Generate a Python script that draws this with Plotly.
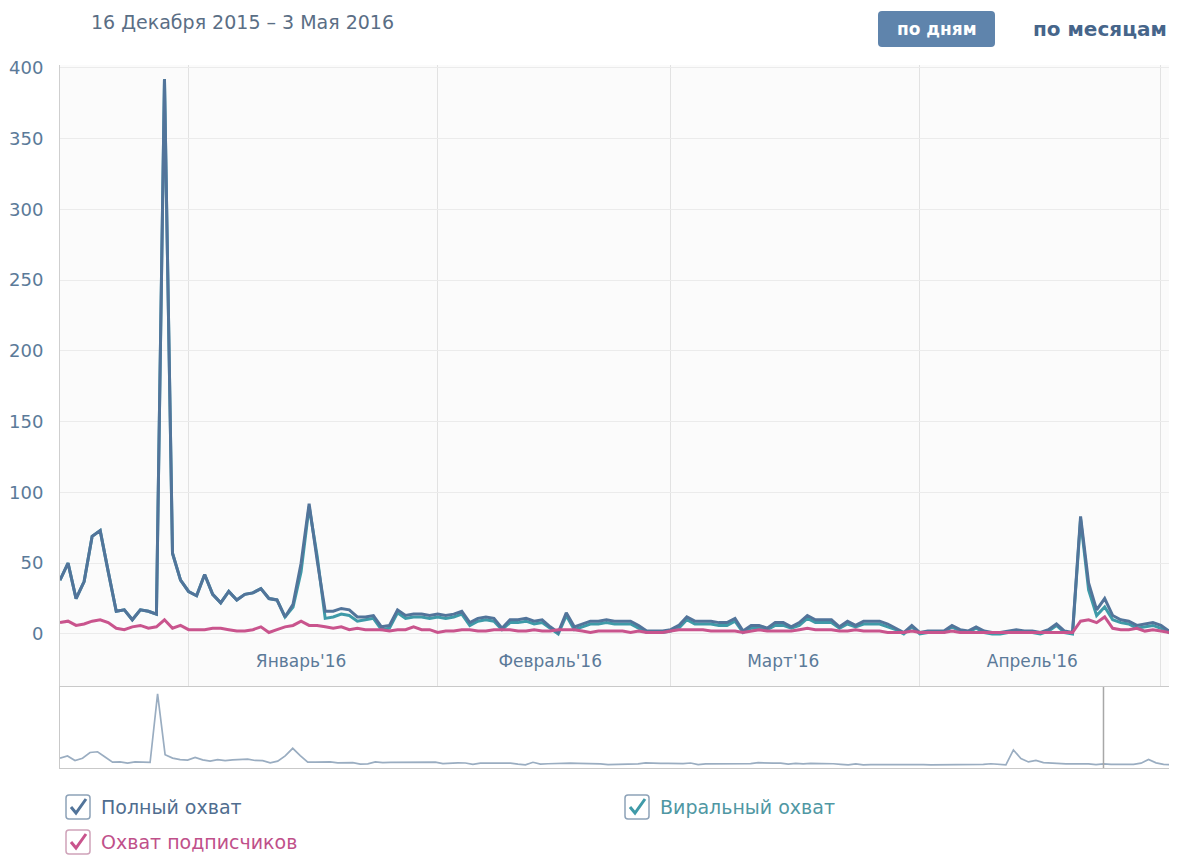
import plotly.graph_objects as go
import pandas as pd

# ---------------- data ----------------
period_start = "2015-12-16"
period_end = "2016-05-03"
nav_end = "2016-05-13"

full_reach = [
    38, 50, 25, 37, 69, 73, 44, 16, 17, 10,
    17, 16, 14, 392, 57, 38, 30, 27, 42, 28,
    22, 30, 24, 28, 29, 32, 25, 24, 12, 21,
    50, 92, 52, 16, 16, 18, 17, 12, 12, 13,
    5, 6, 17, 13, 14, 14, 13, 14, 13, 14,
    16, 8, 11, 12, 11, 4, 10, 10, 11, 9,
    10, 5, 1, 15, 5, 7, 9, 9, 10, 9,
    9, 9, 6, 2, 2, 2, 3, 6, 12, 9,
    9, 9, 8, 8, 11, 2, 6, 6, 4, 8,
    8, 5, 8, 13, 10, 10, 10, 5, 9, 6,
    9, 9, 9, 7, 4, 1, 6, 1, 2, 2,
    2, 6, 3, 2, 5, 2, 1, 1, 2, 3,
    2, 2, 1, 3, 7, 2, 1, 83, 36, 17,
    25, 13, 10, 9, 6, 7, 8, 6, 2, 6,
]

viral_reach = [
    38, 50, 25, 37, 69, 73, 44, 16, 17, 10,
    17, 16, 14, 392, 57, 38, 30, 27, 42, 28,
    22, 30, 24, 28, 29, 32, 25, 24, 12, 19,
    44, 90, 55, 11, 12, 14, 13, 9, 10, 11,
    3, 4, 15, 11, 12, 12, 11, 12, 11, 12,
    14, 6, 9, 10, 9, 3, 8, 8, 9, 7,
    8, 4, 0, 13, 3, 5, 7, 7, 8, 7,
    7, 7, 4, 1, 1, 1, 2, 4, 10, 7,
    7, 7, 6, 6, 9, 1, 4, 4, 3, 6,
    6, 4, 6, 11, 8, 8, 8, 4, 7, 5,
    7, 7, 7, 5, 3, 0, 5, 0, 1, 1,
    1, 5, 2, 1, 4, 1, 0, 0, 1, 2,
    1, 1, 0, 2, 6, 1, 0, 81, 31, 13,
    19, 10, 8, 7, 4, 5, 6, 4, 1, 4,
]

subscriber_reach = [
    8, 9, 6, 7, 9, 10, 8, 4, 3, 5,
    6, 4, 5, 10, 4, 6, 3, 3, 3, 4,
    4, 3, 2, 2, 3, 5, 1, 3, 5, 6,
    9, 6, 6, 5, 4, 5, 3, 4, 3, 3,
    3, 2, 3, 3, 5, 3, 3, 1, 2, 2,
    3, 3, 2, 2, 3, 3, 3, 2, 2, 3,
    2, 2, 3, 3, 3, 2, 1, 2, 2, 2,
    2, 1, 2, 1, 1, 1, 2, 3, 3, 3,
    3, 2, 2, 2, 2, 1, 2, 3, 2, 2,
    2, 2, 3, 4, 3, 3, 3, 2, 2, 3,
    2, 2, 2, 1, 1, 1, 2, 1, 1, 1,
    1, 2, 1, 1, 1, 1, 1, 1, 1, 1,
    1, 1, 1, 1, 1, 1, 1, 9, 10, 8,
    12, 4, 3, 3, 4, 2, 3, 2, 1, 3,
]

# navigator shows ten more days after the selected period
nav_extra_full = [3, 2, 3, 4, 10, 30, 12, 4, 2, 3]

month_ticks = ["2016-01-15", "2016-02-15", "2016-03-15", "2016-04-15"]
month_labels = ["Январь'16", "Февраль'16", "Март'16", "Апрель'16"]
y_ticks = [0, 50, 100, 150, 200, 250, 300, 350, 400]

series_names = ["Полный охват", "Виральный охват", "Охват подписчиков"]
title_text = "16 Декабря 2015 – 3 Мая 2016"
btn_days = "по дням"
btn_months = "по месяцам"

# ---------------- styling ----------------
C_FULL = "#52749a"
C_VIRAL = "#3f9aa8"
C_SUBS = "#c9548d"
C_TICK = "#5b7a99"
FONT = "DejaVu Sans"

OFF = 8  # page body margin
W, H = 1177 - OFF, 861 - OFF
ML, MR, MT = 60 - OFF, 0, 65 - OFF
MB = H - (768 - OFF)


def px(x):
    return (x - OFF - ML) / (W - ML - MR)


def py(y):
    return (H - MB - (y - OFF)) / (H - MT - MB)


split = py(687)

dates = pd.date_range(period_start, period_end, freq="D")
nav_dates = pd.date_range(period_start, nav_end, freq="D")

fig = go.Figure()
fig.add_trace(go.Scatter(x=dates, y=viral_reach, mode="lines", name=series_names[1],
                         line=dict(color=C_VIRAL, width=3), xaxis="x", yaxis="y"))
fig.add_trace(go.Scatter(x=dates, y=full_reach, mode="lines", name=series_names[0],
                         line=dict(color=C_FULL, width=3), xaxis="x", yaxis="y"))
fig.add_trace(go.Scatter(x=dates, y=subscriber_reach, mode="lines", name=series_names[2],
                         line=dict(color=C_SUBS, width=3), xaxis="x", yaxis="y"))
fig.add_trace(go.Scatter(x=nav_dates, y=full_reach + nav_extra_full, mode="lines",
                         name="navigator", line=dict(color="#9aadc1", width=1.7),
                         xaxis="x2", yaxis="y2", hoverinfo="skip"))

shapes = []
annotations = []

# white navigator background
shapes.append(dict(type="rect", xref="x2 domain", yref="y2 domain", x0=0, x1=1, y0=0, y1=1,
                   fillcolor="white", line=dict(width=0), layer="below"))
# navigator selection edge
shapes.append(dict(type="line", xref="x2", yref="y2 domain", x0=period_end, x1=period_end,
                   y0=0, y1=1, line=dict(color="#a8a8a8", width=1.5)))

# header
annotations.append(dict(text=title_text, xref="paper", yref="paper", x=px(89), y=py(22),
                        xanchor="left", yanchor="middle", showarrow=False,
                        font=dict(family=FONT, size=19, color="#5a6e85")))


def rounded_rect(x0, y0, x1, y1, r):
    return (f"M {px(x0 + r)},{py(y0)} L {px(x1 - r)},{py(y0)} "
            f"Q {px(x1)},{py(y0)} {px(x1)},{py(y0 + r)} "
            f"L {px(x1)},{py(y1 - r)} Q {px(x1)},{py(y1)} {px(x1 - r)},{py(y1)} "
            f"L {px(x0 + r)},{py(y1)} Q {px(x0)},{py(y1)} {px(x0)},{py(y1 - r)} "
            f"L {px(x0)},{py(y0 + r)} Q {px(x0)},{py(y0)} {px(x0 + r)},{py(y0)} Z")


shapes.append(dict(type="path", xref="paper", yref="paper", path=rounded_rect(878, 11, 995, 47, 4),
                   fillcolor="#5f84ac", line=dict(width=0)))
annotations.append(dict(text=f"<b>{btn_days}</b>", xref="paper", yref="paper", x=px(936.5), y=py(29),
                        xanchor="center", yanchor="middle", showarrow=False,
                        font=dict(family=FONT, size=17, color="white")))
annotations.append(dict(text=f"<b>{btn_months}</b>", xref="paper", yref="paper", x=px(1100), y=py(29),
                        xanchor="center", yanchor="middle", showarrow=False,
                        font=dict(family=FONT, size=20, color="#46658a")))

# custom checkbox legend
legend_items = [
    (66, 795, series_names[0], C_FULL, "#8da2b8", "#4f6d8f"),
    (625, 795, series_names[1], C_VIRAL, "#8da2b8", "#4f97a3"),
    (66, 830, series_names[2], C_SUBS, "#cfa3b9", "#c0508a"),
]
for bx, by, label, ccol, bcol, tcol in legend_items:
    shapes.append(dict(type="path", xref="paper", yref="paper",
                       path=rounded_rect(bx, by, bx + 24, by + 24, 3),
                       fillcolor="white", line=dict(color=bcol, width=1.5)))
    shapes.append(dict(type="path", xref="paper", yref="paper",
                       path=(f"M {px(bx + 5)},{py(by + 12)} L {px(bx + 10)},{py(by + 18)} "
                             f"L {px(bx + 20)},{py(by + 4)}"),
                       line=dict(color=ccol, width=3)))
    annotations.append(dict(text=label, xref="paper", yref="paper", x=px(bx + 33), y=py(by + 12),
                            xanchor="left", yanchor="middle", showarrow=False,
                            font=dict(family=FONT, size=19, color=tcol)))

fig.update_layout(
    width=W, height=H,
    margin=dict(l=ML, r=MR, t=MT, b=MB),
    paper_bgcolor="white",
    plot_bgcolor="#fbfbfb",
    showlegend=False,
    font=dict(family=FONT, color=C_TICK),
    shapes=shapes,
    annotations=annotations,
    xaxis=dict(
        domain=[0, 1], anchor="y", type="date",
        range=[period_start, period_end],
        tickmode="array", tickvals=month_ticks, ticktext=month_labels,
        ticks="", ticklabelposition="inside", ticklabelstandoff=14,
        tickfont=dict(family=FONT, size=17, color=C_TICK),
        showgrid=False, zeroline=False, showline=False,
        minor=dict(dtick="M1", tick0="2016-01-01", showgrid=True,
                   gridcolor="#e2e2e2", gridwidth=1, ticks=""),
    ),
    yaxis=dict(
        domain=[split, 1], anchor="x",
        range=[-37.5, 402],
        tickmode="array", tickvals=y_ticks,
        ticks="", ticklabelstandoff=12,
        tickfont=dict(family=FONT, size=18, color=C_TICK),
        showgrid=True, gridcolor="#ebebeb", gridwidth=1,
        zeroline=True, zerolinecolor="#ebebeb", zerolinewidth=1,
        showline=True, linecolor="#cfcfcf", linewidth=1,
    ),
    xaxis2=dict(
        domain=[0, 1], anchor="y2", type="date",
        range=[period_start, "2016-05-12 19:00"],
        showticklabels=False, ticks="", showgrid=False, zeroline=False,
        showline=True, mirror=True, linecolor="#c9c9c9", linewidth=1,
    ),
    yaxis2=dict(
        domain=[0, split], anchor="x2",
        range=[-16.5, 430],
        showticklabels=False, ticks="", showgrid=False, zeroline=False,
        showline=True, mirror=True, linecolor="#c9c9c9", linewidth=1,
    ),
)

fig.write_html("out.html")
